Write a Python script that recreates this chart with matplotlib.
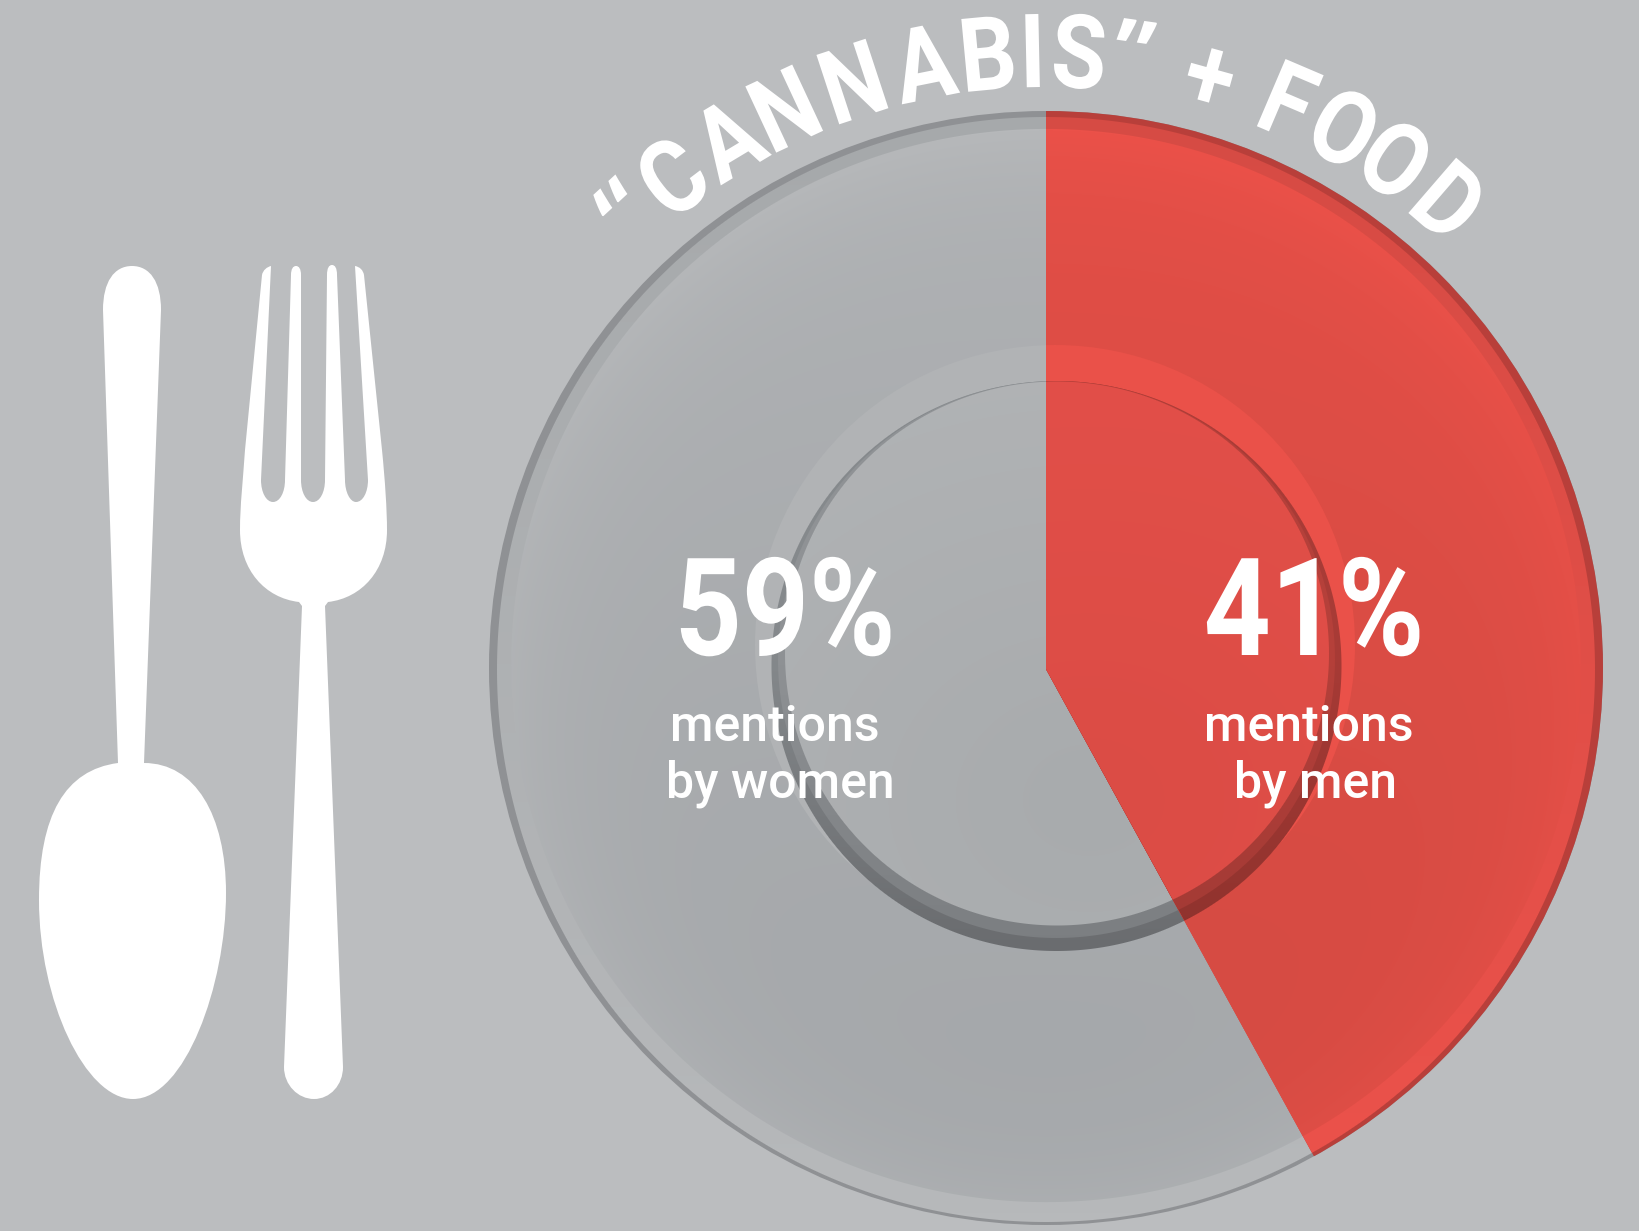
import numpy as np
import matplotlib
matplotlib.use("Agg")
import matplotlib.pyplot as plt
import matplotlib.patheffects as pe
from matplotlib.colors import to_rgb
from matplotlib.patches import Circle, PathPatch
from matplotlib.path import Path
from matplotlib.transforms import Affine2D

# values printed on the chart
groups = ["women", "men"]
percent_labels = [59, 41]
# the slice as it is actually drawn in the picture (about 42 / 58)
drawn_men = 42
drawn_women = 58
title_letters = ["\u201c", "C", "A", "N", "N", "A", "B", "I", "S", "\u201d", "+", "F", "O", "O", "D"]
title_angles = [-42.7, -37.2, -31.0, -25.0, -18.2, -11.4, -5.4, -1.2, 3.1, 8.1, 15.5, 23.1, 28.9, 34.5, 40.8]

W, H = 1639, 1231
BG = "#BBBDBF"
WHITE = "white"


class Squeeze(pe.AbstractPathEffect):
    # narrows the glyphs about their own middle, no condensed bold is installed
    def __init__(self, sx):
        super().__init__()
        self.sx = sx

    def draw_path(self, renderer, gc, tpath, affine, rgbFace=None):
        x = tpath.vertices[:, 0]
        mid = (x.min() + x.max()) / 2
        tr = Affine2D().translate(-mid, 0).scale(self.sx, 1).translate(mid, 0) + affine
        renderer.draw_path(gc, tpath, tr, rgbFace)


fig = plt.figure(figsize=(W / 100, H / 100), dpi=100, facecolor=BG)
ax = fig.add_axes([0, 0, 1, 1])
ax.set_facecolor(BG)

yy, xx = np.mgrid[0:H, 0:W] + 0.5


def disc_image(cx, cy, r, field, c_low, c_high, clip=None, z=2, ys=1.0):
    # gradient-filled disc, one array pixel per output pixel
    low, high = np.array(to_rgb(c_low)), np.array(to_rgb(c_high))
    f = np.clip(field, 0, 1)[..., None]
    alpha = np.clip(r - np.hypot(xx - cx, (yy - cy) / ys) + 0.5, 0, 1)
    rgba = np.dstack([low + (high - low) * f, alpha])
    im = ax.imshow(rgba, extent=(0, W, H, 0), origin="upper", interpolation="nearest", zorder=z)
    if clip is not None:
        im.set_clip_path(clip)
    return im


def disc(cx, cy, r, color, clip=None, z=2):
    c = Circle((cx, cy), r, facecolor=color, edgecolor="none", zorder=z)
    ax.add_patch(c)
    if clip is not None:
        c.set_clip_path(clip)
    return c


# y axis runs downwards, so 270 is the top of the plate and counterclock turns right on screen
wedges, _ = ax.pie([drawn_men, drawn_women], center=(1046, 669), radius=559, startangle=270,
                   counterclock=True, colors=["none", "none"],
                   wedgeprops={"linewidth": 0, "zorder": 1})
men_wedge = wedges[0]

# shading fields
rim_field = (yy - 116) / (1213 - 116)
surf_field = 0.05 + 0.55 * (1190 - yy) / 1060 + 0.4 * (np.hypot(xx - 1046, yy - 665.5) / 535) ** 8
band_field = (950 - yy) / 300
inner_field = np.hypot((xx - 1090) / 1.2, yy - 800) / 560

# (colour set, clip): plain plate first, the red copy is clipped to the men's slice
plates = [
    (dict(edge="#8F9194", rim=("#A6A9AB", "#B7B9BB"), surf=("#A3A6A9", "#B6B8BA"), ring="#B1B3B5",
          b1=("#6A6C6F", "#85898C"), b2=("#7B7E81", "#8F9295"), inner=("#A8ABAD", "#B3B5B7")), None, 2),
    (dict(edge="#B83F3A", rim=("#D64B44", "#EC524B"), surf=("#D24A42", "#EB5149"), ring="#EA5149",
          b1=("#8E322D", "#A83B36"), b2=("#A23A35", "#B5403A"), inner=("#DB4C45", "#E4504A")), men_wedge, 3),
]
for pal, clip, z in plates:
    disc(1046, 668, 557, pal["edge"], clip, z)
    disc_image(1046, 669.5, 549, rim_field, *pal["rim"], clip=clip, z=z, ys=1.0064)
    disc_image(1046, 665.5, 535, surf_field, *pal["surf"], clip=clip, z=z, ys=1.003)
    disc(1055, 645, 300, pal["ring"], clip, z)
    disc_image(1056.5, 666, 285, band_field, *pal["b1"], clip=clip, z=z)
    disc_image(1056.5, 659.5, 278.5, band_field, *pal["b2"], clip=clip, z=z)
    disc_image(1057, 653.5, 272, inner_field, *pal["inner"], clip=clip, z=z)

# cutlery
M, L, C = Path.MOVETO, Path.LINETO, Path.CURVE4


def shape(start, steps):
    verts, codes = [start], [M]
    for s in steps:
        if len(s) == 1:
            verts += s
            codes += [L]
        else:
            verts += s
            codes += [C, C, C]
    verts.append(start)
    codes.append(Path.CLOSEPOLY)
    return Path(verts, codes)


spoon = shape((132, 266), [
    [(114, 266), (103, 282), (103, 310)],
    [(118, 763)],
    [(65, 770), (39, 815), (39, 900)],
    [(39, 1000), (85, 1099), (133, 1099)],
    [(185, 1099), (226, 985), (226, 893)],
    [(226, 815), (195, 763), (144, 763)],
    [(161, 310)],
    [(161, 282), (150, 266), (132, 266)],
])
fork = shape((271, 266), [
    [(261, 480)],
    [(261, 492), (266, 502), (273, 502)],
    [(280, 502), (285, 492), (285, 480)],
    [(291, 275)],
    [(291, 269), (293, 266), (296, 266)],
    [(299, 266), (301, 269), (301, 275)],
    [(301, 480)],
    [(301, 492), (306, 502), (313, 502)],
    [(320, 502), (325, 492), (325, 480)],
    [(327, 275)],
    [(327, 268), (329, 265), (332, 265)],
    [(335, 265), (337, 268), (337, 275)],
    [(345, 480)],
    [(345, 492), (350, 502), (356, 502)],
    [(363, 502), (368, 492), (368, 480)],
    [(355, 266)],
    [(360, 267), (363, 270), (364, 275)],
    [(382, 450)],
    [(385, 480), (387, 510), (387, 530)],
    [(387, 570), (362, 598), (328, 602)],
    [(325, 606)],
    [(343, 1067)],
    [(343, 1085), (330, 1099), (314, 1099)],
    [(298, 1099), (284, 1085), (284, 1067)],
    [(302, 606)],
    [(299, 602)],
    [(265, 598), (240, 570), (240, 530)],
    [(240, 505), (243, 480), (245, 450)],
    [(262, 275)],
    [(263, 270), (267, 267), (271, 266)],
])
for p in (spoon, fork):
    ax.add_patch(PathPatch(p, facecolor=WHITE, edgecolor="none", zorder=5))

# curved title, baseline on a circle round the plate
for ch, a in zip(title_letters, title_angles):
    t = np.radians(a)
    quote = ch in "\u201c\u201d"
    rad = 590 if quote else 582
    ax.text(1046 + rad * np.sin(t), 669 - rad * np.cos(t), ch, color=WHITE, fontsize=66 if quote else 74,
            family="Open Sans" if quote else "Roboto", weight="bold", ha="center", va="baseline",
            rotation=-a, rotation_mode="anchor", zorder=6, path_effects=[Squeeze(0.98 if quote else 0.87)])

# percentages and captions
big = dict(color=WHITE, fontsize=98, family="Roboto", weight="bold", ha="center", va="baseline", zorder=6,
           path_effects=[Squeeze(0.86)])
small = dict(color=WHITE, fontsize=36, family="Roboto", weight="medium", ha="center", va="baseline", zorder=6)
ax.text(785.5, 655, f"{percent_labels[0]}%", **big)
ax.text(1314.5, 655, f"{percent_labels[1]}%", **big)
ax.text(774.5, 741, "mentions", **small)
ax.text(780.5, 797, f"by {groups[0]}", **small)
ax.text(1309, 741, "mentions", **small)
ax.text(1315.5, 797, f"by {groups[1]}", **small)

ax.set_xlim(0, W)
ax.set_ylim(H, 0)
ax.set_aspect("auto")
ax.axis("off")
fig.savefig("out.png", dpi=100, facecolor=BG)
